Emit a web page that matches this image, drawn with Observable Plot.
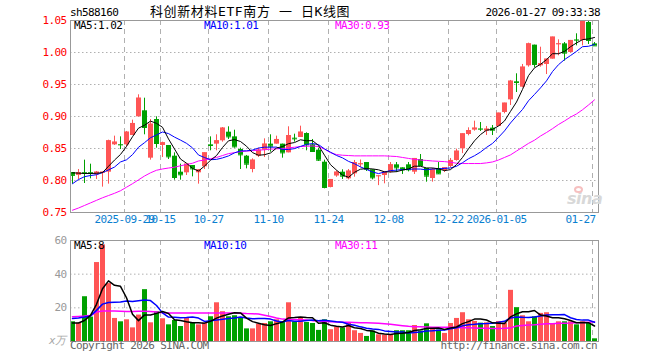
<!DOCTYPE html>
<html>
<head>
<meta charset="utf-8">
<script src="https://cdn.jsdelivr.net/npm/d3@7"></script>
<script src="https://cdn.jsdelivr.net/npm/@observablehq/plot@0.6"></script>
<style>
  html, body { margin: 0; padding: 0; background: #fff; }
  #wrap { position: relative; width: 660px; height: 360px; overflow: hidden; font-family: "DejaVu Sans Mono", monospace; font-size: 11px; letter-spacing: -0.6px; }
  .t { position: absolute; white-space: nowrap; line-height: 12px; }
  .panel { position: absolute; left: 0; }
</style>
</head>
<body>
<div id="wrap"></div>
<script>
// ---------- data ----------
const symbol = "sh588160";
const title = "科创新材料ETF南方 一 日K线图";
const stamp = "2026-01-27 09:33:38";

const open = [.8125,.808,.8125,.8125,.8089,.8115,.813,.8557,.8562,.8557,
  .8703,.8995,.9089,.8349,.8953,.8547,.8547,.838,.813,.812,
  .8234,.812,.8214,.8557,.8568,.862,.8755,.8682,.8484,.838,
  .8172,.838,.8474,.8568,.8568,.8568,.8432,.8661,.8672,.8734,
  .8557,.8474,.8286,.7891,.807,.813,.8026,.8104,.825,.8281,
  .8167,.8068,.8078,.813,.8245,.8198,.8245,.813,.8328,.8188,
  .8031,.8188,.8156,.8219,.8313,.8495,.8719,.8787,.8807,.8771,
  .8818,.8844,.9063,.926,.9542,.9458,.9792,1.0115,.9792,.9813,
  .9896,1.0125,1.0135,1.0,1.0198,1.0188,1.0469,1.0135];
const high = [.8125,.8172,.8318,.8255,.8141,.8135,.863,.8693,.8682,.8766,
  .8943,.9339,.9286,.8953,.8995,.8599,.8547,.8432,.8255,.8255,
  .8234,.8172,.8432,.8682,.8714,.8828,.8839,.8786,.8505,.8391,
  .8339,.8505,.8651,.8714,.8693,.8568,.8839,.8724,.8849,.8745,
  .8641,.8505,.8318,.8016,.815,.8167,.8172,.8313,.832,.8281,
  .8167,.8073,.813,.8281,.8281,.8198,.8281,.8344,.8406,.8188,
  .8188,.8281,.8198,.8344,.849,.8729,.8823,.8927,.8906,.8844,
  .8859,.9052,.9208,.9563,.9667,.9813,1.0146,1.0115,1.0083,.9896,
  1.024,1.0198,1.0156,1.0188,1.0292,1.05,1.05,1.0156];
const low = [.7943,.8016,.7953,.8026,.8016,.7896,.7943,.8547,.8484,.8526,
  .8703,.8995,.8714,.8318,.8505,.8359,.8328,.8005,.8005,.8078,
  .8057,.7943,.8172,.8464,.8464,.8599,.8641,.8505,.8172,.8182,
  .812,.8359,.8359,.8443,.8568,.8349,.8432,.8599,.8672,.8464,
  .8443,.8297,.787,.7885,.805,.8016,.801,.8052,.82,.8141,
  .801,.792,.7948,.8115,.8125,.8094,.8135,.8094,.8234,.7974,
  .7974,.8094,.8125,.8198,.8302,.842,.8698,.8771,.8766,.8703,
  .8703,.8844,.9042,.9172,.9375,.9448,.9771,.976,.9771,.9656,
  .9896,.9948,.9865,.999,1.0104,1.0104,1.0125,1.0104];
const close = [.808,.8125,.8115,.8115,.813,.813,.862,.8599,.8557,.8755,
  .8891,.9286,.8828,.888,.8578,.8589,.837,.8047,.8089,.8255,
  .8182,.8165,.8432,.8547,.862,.8818,.8682,.8526,.8401,.8255,
  .8318,.8474,.8568,.8536,.8641,.8432,.8703,.8651,.8755,.8557,
  .8453,.8318,.7891,.8016,.813,.8068,.8146,.8281,.826,.8177,
  .8042,.8073,.813,.8245,.8198,.8167,.8167,.8344,.8234,.8068,
  .8167,.8104,.8198,.8313,.8458,.8729,.8781,.8818,.8802,.8802,
  .8786,.9052,.9208,.9552,.9531,.9771,1.0135,.9813,.9823,.9896,
  1.024,1.0135,.999,1.0188,1.0193,1.05,1.0188,1.0104];
// volume, 万
const volume = [11.7,10.9,26.6,14.5,46.9,57.4,34.4,13.7,11.7,12.9,
  8.1,15.7,30.8,11.1,17.7,13.5,9.9,12.5,8.9,13.7,
  10.9,9.9,10.9,14.7,23.0,17.7,14.7,15.3,14.1,7.5,
  7.5,10.3,10.7,11.7,12.9,11.7,23.0,11.7,13.9,11.3,
  10.7,6.6,12.9,7.0,8.5,8.1,10.9,6.4,4.8,3.0,
  6.2,4.0,3.8,3.8,6.4,6.4,6.4,9.5,6.2,10.5,
  7.1,6.8,4.8,10.7,13.7,17.1,12.9,11.9,10.9,11.1,
  8.9,11.9,10.9,30.4,20.1,15.3,11.7,14.7,16.7,17.1,
  10.5,11.7,11.7,11.7,9.9,11.7,10.9,1.6];
// moving-average lines as drawn
const ma5 = [.812,.8115,.811,.811,.8113,.8123,.8222,.8319,.8407,.8532,
  .8684,.8818,.8863,.8928,.8893,.8832,.8649,.8493,.8335,.827,
  .8189,.8148,.8225,.8316,.8389,.8516,.862,.8639,.8609,.8536,
  .8436,.8395,.8403,.843,.8507,.853,.8576,.8593,.8636,.862,
  .8624,.8547,.8395,.8247,.8162,.8085,.805,.8128,.8177,.8186,
  .8181,.8167,.8136,.8133,.8138,.8163,.8181,.8224,.8222,.8196,
  .8196,.8183,.8154,.817,.8248,.836,.8496,.862,.8718,.8786,
  .8798,.8852,.893,.908,.9226,.9423,.9639,.976,.9815,.9888,
  .9981,.9981,1.0017,1.009,1.0149,1.0201,1.0212,1.0235];
const ma10 = [.795,.8015,.806,.8078,.809,.8125,.8165,.821,.829,.8323,
  .8404,.852,.8591,.8668,.8712,.8758,.8733,.8678,.8631,.8581,
  .851,.8398,.8359,.8325,.833,.8353,.8384,.8432,.8463,.8463,
  .8476,.8507,.8521,.852,.8522,.8483,.8485,.8498,.8533,.8564,
  .8577,.8561,.8494,.8442,.8391,.8354,.8299,.8262,.8212,.8174,
  .8133,.8108,.8132,.8155,.8162,.8172,.8174,.818,.8178,.8167,
  .8179,.8182,.8189,.8196,.8222,.8278,.834,.8387,.8444,.8517,
  .8579,.8674,.8775,.8899,.9006,.911,.9246,.9345,.9447,.9557,
  .9702,.981,.9889,.9952,1.0018,1.0091,1.0097,1.0126];
const ma30 = [.7536,.757,.761,.765,.769,.773,.7765,.78,.784,.7895,
  .795,.801,.807,.812,.816,.818,.8195,.8208,.823,.825,
  .827,.8305,.832,.834,.836,.839,.842,.8435,.845,.846,
  .8465,.8475,.848,.849,.8495,.85,.851,.852,.853,.8535,
  .854,.853,.849,.8435,.8405,.8395,.839,.8385,.8385,.8385,
  .8385,.8385,.8385,.838,.8375,.836,.8345,.833,.832,.8313,
  .8305,.83,.8295,.8285,.827,.8265,.8265,.8265,.8265,.8275,
  .829,.832,.836,.84,.846,.852,.858,.863,.8695,.875,
  .881,.8875,.893,.899,.904,.9105,.918,.926];
const vma5 = [11,11,12.5,15.5,22.1,31.3,36.0,33.4,32.8,26.0,
  16.2,12.4,15.8,15.7,16.7,17.8,16.6,12.9,12.5,11.7,
  11.2,11.2,10.9,12.0,13.9,15.2,16.2,17.1,17.0,13.9,
  11.8,10.9,10.0,9.5,10.6,11.5,14.0,14.2,14.6,14.3,
  14.1,10.8,11.1,9.7,9.1,8.6,9.5,8.2,7.7,6.6,
  6.3,4.9,4.4,4.2,4.8,4.9,5.4,6.5,7.0,7.8,
  7.9,8.0,7.1,8.0,8.6,10.6,11.8,13.3,13.3,12.8,
  11.1,10.9,10.7,14.6,16.4,17.7,17.7,18.4,15.7,15.1,
  14.1,14.1,13.5,12.5,11.1,11.3,11.2,9.2];
const vma10 = [13.7,14,14.5,15.2,18.5,22.2,23.2,23.3,23.4,24.1,
  23.7,24.2,24.6,24.3,21.4,17.0,14.5,14.4,14.1,14.2,
  14.5,13.9,11.9,12.3,12.8,13.2,13.7,14.0,14.5,13.9,
  13.5,13.6,13.6,13.3,12.2,11.6,12.5,12.1,12.1,12.5,
  12.8,12.4,12.6,12.2,11.7,11.4,10.2,9.6,8.7,7.9,
  7.4,7.2,6.3,6.0,5.7,5.6,5.1,5.4,5.6,6.3,
  6.4,6.7,6.8,7.5,8.2,9.3,9.9,10.2,10.6,10.7,
  10.9,11.4,12.0,14.0,14.6,14.4,14.3,14.6,15.2,15.8,
  15.9,15.9,16.0,14.1,13.1,12.7,12.7,11.4];
const vma30 = [14.7,14.9,15.1,15.4,17.5,18.1,18.1,18.1,18.0,17.8,
  17.8,18.0,18.0,17.8,17.5,17.1,16.9,16.9,16.9,16.9,
  16.9,16.9,16.9,16.9,16.9,16.9,16.9,16.9,16.8,16.6,
  16.5,16.3,15.6,14.8,14.0,13.3,13.1,13.0,12.9,12.7,
  12.4,12.2,11.9,11.7,11.6,11.5,11.4,11.3,11.2,11.1,
  11.0,10.9,10.6,10.2,9.8,9.4,9.0,8.8,8.7,8.6,
  8.5,8.5,8.5,8.4,8.3,8.2,8.1,8.0,7.9,7.8,
  7.7,7.7,7.8,8.1,9.2,9.5,9.8,10.0,10.3,10.5,
  10.6,10.8,10.9,11.0,11.2,11.3,11.5,11.7];

const dateTickIndex = [9, 15, 23, 33, 43, 53, 63, 71, 87];
const dateTickLabels = ["2025-09-29", "10-15", "10-27", "11-10", "11-24", "12-08", "12-22", "2026-01-05", "01-27"];
const priceTicks = [0.75, 0.80, 0.85, 0.90, 0.95, 1.00, 1.05];
const priceGrid = [0.80, 0.85, 0.90, 0.95, 1.00];
const volTicks = [20, 40, 60];
const volGrid = [20, 40];
const legendPrice = [["MA5:1.02", "#000"], ["MA10:1.01", "#0000ff"], ["MA30:0.93", "#ff00ff"]];
const legendVol = [["MA5:8", "#000"], ["MA10:10", "#0000ff"], ["MA30:11", "#ff00ff"]];

// ---------- build ----------
const UP = "#ff5555", DOWN = "#00a000";
const candles = open.map((o, i) => ({i, open: o, high: high[i], low: low[i], close: close[i], vol: volume[i],
  ma5: ma5[i], ma10: ma10[i], ma30: ma30[i], vma5: vma5[i], vma10: vma10[i], vma30: vma30[i],
  color: close[i] >= o ? UP : DOWN}));
const ticks = dateTickIndex.map((i, k) => ({i, label: dateTickLabels[k]}));
const lastTick = ticks.length - 1;

const xOpt = {domain: [-0.5, 87.5], axis: null};
const common = {width: 660, marginLeft: 70, marginRight: 62,
  style: {fontFamily: "DejaVu Sans Mono", fontSize: "11px", background: "transparent", overflow: "visible", letterSpacing: "-0.6px"}};

const price = Plot.plot({
  ...common, height: 235, marginTop: 20, marginBottom: 23,
  x: xOpt, y: {domain: [0.75, 1.05], axis: null},
  marks: [
    Plot.ruleY(priceGrid, {stroke: "#b0b0b0", strokeDasharray: "1.5,2.5"}),
    Plot.ruleX(ticks, {x: d => d.i - 0.5, stroke: "#b0b0b0", strokeDasharray: "5,4"}),
    Plot.ruleX(candles, {x: d => d.i - 1/6, y1: "low", y2: "high", stroke: "color"}),
    Plot.rect(candles, {x1: d => d.i - 0.5, x2: d => d.i + 1/3, y1: "open", y2: "close", fill: "color"}),
    Plot.ruleY(candles, {x1: d => d.i - 0.5, x2: d => d.i + 1/3, y: "close", stroke: "color"}),
    Plot.line(candles, {x: d => d.i - 1/6, y: "ma30", stroke: "#ff00ff", strokeWidth: 1}),
    Plot.line(candles, {x: d => d.i - 1/6, y: "ma10", stroke: "#0000ff", strokeWidth: 1}),
    Plot.line(candles, {x: d => d.i - 1/6, y: "ma5", stroke: "#000", strokeWidth: 1}),
    Plot.frame({stroke: "#999"}),
    Plot.text(priceTicks, {y: d => d, frameAnchor: "left", dx: -4, text: d => d.toFixed(2), textAnchor: "end", fill: "#ff0000"}),
    Plot.text(ticks.slice(0, lastTick), {x: d => d.i - 0.5, frameAnchor: "bottom", dy: 10, text: "label", fill: "#0a80d0"}),
    Plot.text(ticks.slice(lastTick), {x: d => d.i - 0.5, frameAnchor: "bottom", dy: 10, dx: 3, textAnchor: "end", text: "label", fill: "#0a80d0"})
  ]
});

const vol = Plot.plot({
  ...common, height: 125, marginTop: 5, marginBottom: 19,
  x: xOpt, y: {domain: [0, 60], axis: null},
  marks: [
    Plot.ruleY(volGrid, {stroke: "#b0b0b0", strokeDasharray: "1.5,2.5"}),
    Plot.ruleX(ticks, {x: d => d.i - 0.5, stroke: "#b0b0b0", strokeDasharray: "5,4"}),
    Plot.rect(candles, {x1: d => d.i - 0.5, x2: d => d.i + 1/3, y1: 0, y2: "vol", fill: "color"}),
    Plot.line(candles, {x: d => d.i - 1/6, y: "vma30", stroke: "#ff00ff"}),
    Plot.line(candles, {x: d => d.i - 1/6, y: "vma10", stroke: "#0000ff"}),
    Plot.line(candles, {x: d => d.i - 1/6, y: "vma5", stroke: "#000"}),
    Plot.frame({stroke: "#999"}),
    Plot.text(volTicks, {y: d => d, frameAnchor: "left", dx: -4, text: d => String(d), textAnchor: "end", fill: "#999"})
  ]
});

const wrap = document.getElementById("wrap");
function place(el, top) { const d = document.createElement("div"); d.className = "panel"; d.style.top = top + "px"; d.appendChild(el); wrap.appendChild(d); }
place(price, 0);
place(vol, 235);

function txt(s, css) { const d = document.createElement("div"); d.className = "t"; d.textContent = s; Object.assign(d.style, css); wrap.appendChild(d); return d; }
txt(symbol, {left: "70px", top: "7px", color: "#000"});
txt(title, {left: "150px", top: "6px", color: "#000", fontSize: "13px", letterSpacing: "0.6px", fontFamily: "'DejaVu Sans Mono','Noto Sans CJK SC'"});
txt(stamp, {right: "60px", top: "7px", color: "#000"});
const legendX = [74, 204, 335];
legendPrice.forEach(([s, c], k) => txt(s, {left: legendX[k] + "px", top: "20px", color: c}));
legendVol.forEach(([s, c], k) => txt(s, {left: legendX[k] + "px", top: "240px", color: c}));
txt("x万", {left: "49px", top: "335px", color: "#aaa", fontStyle: "italic"});
txt("Copyright 2026 SINA.COM", {left: "70px", top: "340px", color: "#666"});
txt("http://finance.sina.com.cn", {right: "63px", top: "340px", color: "#666"});
txt("sina", {left: "567px", top: "191px", color: "#d8d8d8", fontSize: "16px", fontStyle: "italic", fontWeight: "bold", fontFamily: "'DejaVu Sans'", letterSpacing: "-0.5px", lineHeight: "16px"});
const eye = document.createElement("div");
Object.assign(eye.style, {position: "absolute", left: "574px", top: "186px", width: "9px", height: "7px", borderRadius: "50%", border: "2px solid #f6c0c0", boxSizing: "border-box"});
wrap.appendChild(eye);
</script>
</body>
</html>
